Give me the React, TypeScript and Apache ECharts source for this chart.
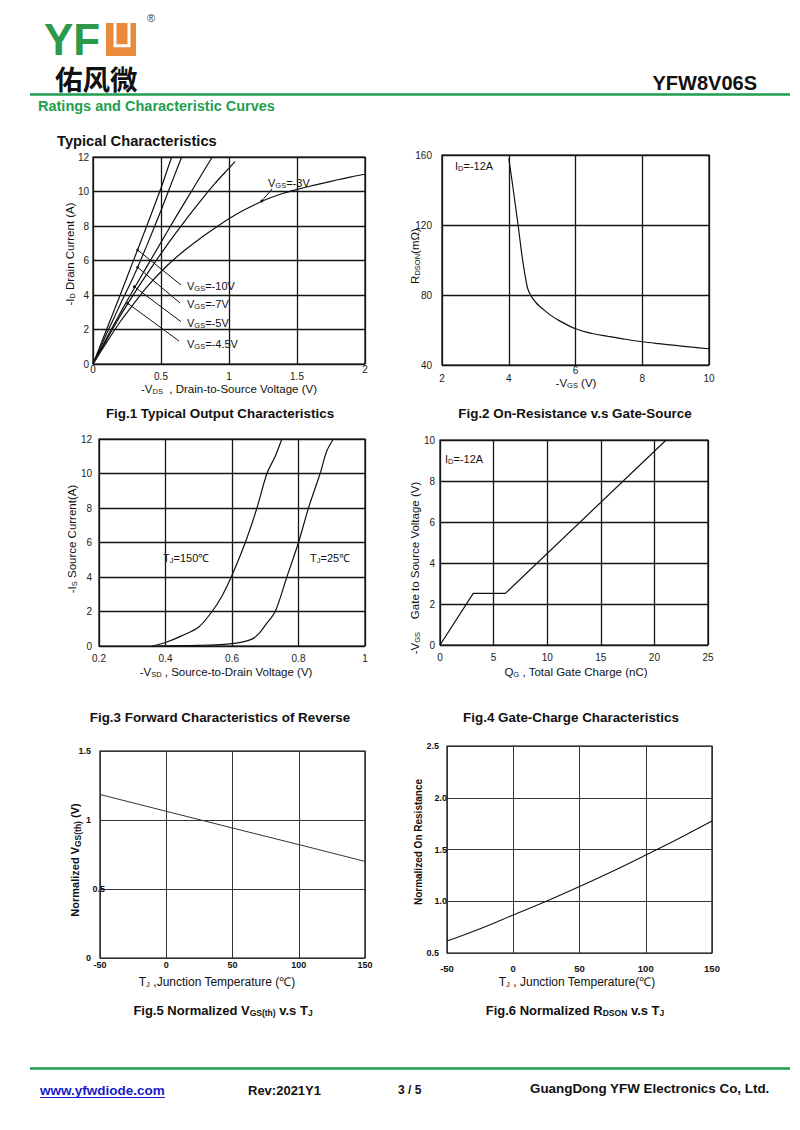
import React, { useEffect, useRef } from "react";
import * as echarts from "echarts";

const FONT = "'Liberation Sans', Arial, sans-serif";

// ---------- Fig.1 Typical output characteristics (-VDS [V] vs -ID [A]) ----------
const f1Vds10 = [0, 0.1, 0.2, 0.3, 0.4, 0.5, 0.578];
const f1Id10 = [0, 2.0, 4.0, 6.05, 8.1, 10.2, 12];
const f1Vds7 = [0, 0.1, 0.2, 0.3, 0.4, 0.5, 0.6, 0.652];
const f1Id7 = [0, 1.75, 3.45, 5.1, 6.95, 8.9, 10.95, 12];
const f1Vds5 = [0, 0.1, 0.2, 0.3, 0.4, 0.5, 0.6, 0.7, 0.8, 0.877];
const f1Id5 = [0, 1.5, 2.95, 4.35, 5.7, 7.05, 8.4, 9.7, 11.0, 12];
const f1Vds45 = [0, 0.1, 0.2, 0.3, 0.4, 0.5, 0.6, 0.7, 0.8, 0.9, 1.0, 1.044];
const f1Id45 = [0, 1.4, 2.78, 4.05, 5.25, 6.4, 7.5, 8.55, 9.55, 10.5, 11.35, 11.73];
const f1Vds3 = [0, 0.1, 0.2, 0.3, 0.4, 0.5, 0.6, 0.7, 0.8, 0.9, 1.0, 1.1, 1.2, 1.3, 1.4, 1.5, 1.6, 1.7, 1.8, 1.9, 2.0];
const f1Id3 = [0, 1.25, 2.45, 3.5, 4.5, 5.35, 6.1, 6.75, 7.35, 7.9, 8.42, 8.88, 9.28, 9.62, 9.9, 10.12, 10.32, 10.5, 10.68, 10.85, 11.0];

// ---------- Fig.2 On-resistance vs gate-source voltage ----------
const f2Vgs = [4.0, 4.1, 4.2, 4.3, 4.4, 4.5, 4.55, 4.6, 4.7, 4.8, 4.9, 5.0, 5.25, 5.5, 6.0, 6.5, 7.0, 7.5, 8.0, 8.5, 9.0, 9.5, 10.0];
const f2Rds = [158, 145, 131, 117, 102, 90, 85, 82, 78.5, 76, 74, 72.3, 68.5, 65.5, 60.7, 58, 56.3, 54.7, 53.3, 52.2, 51.2, 50.2, 49.3];

// ---------- Fig.3 Forward characteristics of reverse diode ----------
const f3Vsd150 = [0.36, 0.4, 0.45, 0.5, 0.54, 0.57, 0.6, 0.64, 0.675, 0.705, 0.73, 0.75];
const f3Is150 = [0, 0.2, 0.6, 1.1, 2.0, 2.9, 4.1, 6.0, 8.0, 10.0, 11.0, 12.0];
const f3Vsd25 = [0.38, 0.45, 0.5, 0.55, 0.6, 0.63, 0.66, 0.68, 0.7, 0.73, 0.765, 0.8, 0.83, 0.865, 0.885, 0.905];
const f3Is25 = [0, 0.02, 0.04, 0.07, 0.14, 0.22, 0.4, 0.7, 1.2, 2.0, 4.0, 6.0, 8.0, 10.0, 11.3, 12];

// ---------- Fig.4 Gate charge ----------
const f4Qg = [0, 3.1, 6.1, 21.1];
const f4Vgs = [0, 2.52, 2.52, 10];

// ---------- Fig.5 Normalized VGS(th) vs TJ ----------
const f5Tj = [-50, 0, 50, 100, 150];
const f5Vth = [1.185, 1.063, 0.942, 0.822, 0.7];

// ---------- Fig.6 Normalized RDSON vs TJ ----------
const f6Tj = [-50, -25, 0, 25, 50, 75, 100, 125, 150];
const f6Rds = [0.615, 0.735, 0.868, 1.0, 1.142, 1.29, 1.447, 1.607, 1.775];

const zip = (xs: number[], ys: number[]) => xs.map((x, i) => [x, ys[i]]);

const SUB = { fontSize: 7.5, verticalAlign: "bottom" as const, fontFamily: FONT, padding: [5, 0, 0, 0] };

function txt(text: string, x: number, y: number, opts: any = {}) {
  const { rotation, rich, ...style } = opts;
  return {
    type: "text",
    x,
    y,
    rotation: rotation || 0,
    silent: true,
    style: {
      text,
      fontFamily: FONT,
      fontSize: 11,
      fill: "#111",
      align: "left",
      verticalAlign: "middle",
      rich: rich || { s: { ...SUB, fill: style.fill || "#111" } },
      ...style,
    },
  };
}

function line(x1: number, y1: number, x2: number, y2: number, stroke = "#111", lineWidth = 1) {
  return { type: "line", silent: true, shape: { x1, y1, x2, y2 }, style: { stroke, lineWidth } };
}

function dot(cx: number, cy: number) {
  return { type: "circle", silent: true, shape: { cx, cy, r: 1.4 }, style: { fill: "#111" } };
}

export default function App() {
  const ref = useRef<HTMLDivElement>(null);

  useEffect(() => {
    document.body.style.margin = "0";
    if (!ref.current) return;
    const chart = echarts.init(ref.current, null, { renderer: "svg" });

    const gridDefs = [
      { left: 93, top: 157, width: 272, height: 207 },
      { left: 442, top: 155, width: 267, height: 210 },
      { left: 99, top: 439, width: 266, height: 207 },
      { left: 440, top: 440, width: 268, height: 205 },
      { left: 100, top: 751, width: 265, height: 207 },
      { left: 447, top: 746, width: 265, height: 207 },
    ];
    const grid = gridDefs.map((g) => ({ ...g, show: true, borderColor: "#000", borderWidth: 1.2, containLabel: false }));

    const split = (thin = false) => ({ show: true, lineStyle: { color: thin ? "#333" : "#151515", width: thin ? 1 : 1.3 } });
    const lbl = (o: any) => ({ fontFamily: FONT, fontSize: 10, color: "#222", ...o });
    const baseAxis = (gi: number, min: number, max: number, interval: number, thin: boolean, label: any) => ({
      gridIndex: gi,
      type: "value",
      min,
      max,
      interval,
      axisLine: { show: false },
      axisTick: { show: false },
      splitLine: split(thin),
      axisLabel: label,
    });

    const xAxis = [
      baseAxis(0, 0, 2, 0.5, false, lbl({
        margin: 0,
        formatter: (v: number) => (v === 0 || v === 2 ? `{h|${v}}` : `{n|${v}}`),
        rich: { h: { fontFamily: FONT, fontSize: 10, color: "#222" }, n: { fontFamily: FONT, fontSize: 10, color: "#222", padding: [7, 0, 0, 0] } },
      })),
      baseAxis(1, 2, 10, 2, false, lbl({
        margin: 0,
        formatter: (v: number) => (v === 6 ? `{h|${v}}` : `{n|${v}}`),
        rich: { h: { fontFamily: FONT, fontSize: 10, color: "#222" }, n: { fontFamily: FONT, fontSize: 10, color: "#222", padding: [8, 0, 0, 0] } },
      })),
      baseAxis(2, 0.2, 1, 0.2, false, lbl({ margin: 7, formatter: (v: number) => String(Math.round(v * 10) / 10) })),
      baseAxis(3, 0, 25, 5, false, lbl({ margin: 7 })),
      baseAxis(4, -50, 150, 50, true, lbl({ margin: 2, fontSize: 9, fontWeight: "bold", color: "#111" })),
      baseAxis(5, -50, 150, 50, true, lbl({ margin: 10, fontSize: 9.5, fontWeight: "bold", color: "#111" })),
    ];
    const yAxis = [
      baseAxis(0, 0, 12, 2, false, lbl({ margin: 4 })),
      baseAxis(1, 40, 160, 40, false, lbl({ margin: 10 })),
      baseAxis(2, 0, 12, 2, false, lbl({ margin: 7 })),
      baseAxis(3, 0, 10, 2, false, lbl({ margin: 5 })),
      baseAxis(4, 0, 1.5, 0.5, true, lbl({
        margin: -5,
        formatter: (v: number) => (v === 0.5 ? `{b|0.5}` : `{a|${v}}`),
        rich: {
          a: { fontFamily: FONT, fontSize: 9, fontWeight: "bold", color: "#111", padding: [0, 14, 0, 0] },
          b: { fontFamily: FONT, fontSize: 9, fontWeight: "bold", color: "#111" },
        },
      })),
      baseAxis(5, 0.5, 2.5, 0.5, true, lbl({
        margin: 0,
        formatter: (v: number) => (v === 0.5 || v === 2.5 ? `{a|${v.toFixed(1)}}` : `{b|${v.toFixed(1)}}`),
        rich: {
          a: { fontFamily: FONT, fontSize: 9, fontWeight: "bold", color: "#111", padding: [0, 8, 0, 0] },
          b: { fontFamily: FONT, fontSize: 9, fontWeight: "bold", color: "#111" },
        },
      })),
    ];

    const ser = (gi: number, xs: number[], ys: number[], smooth: any = 0.3, width = 1.2, color = "#111") => ({
      type: "line",
      xAxisIndex: gi,
      yAxisIndex: gi,
      data: zip(xs, ys),
      showSymbol: false,
      symbol: "none",
      smooth,
      silent: true,
      clip: true,
      lineStyle: { color, width },
    });

    const series = [
      ser(0, f1Vds10, f1Id10),
      ser(0, f1Vds7, f1Id7),
      ser(0, f1Vds5, f1Id5),
      ser(0, f1Vds45, f1Id45),
      ser(0, f1Vds3, f1Id3),
      ser(1, f2Vgs, f2Rds, 0.35),
      ser(2, f3Vsd150, f3Is150),
      ser(2, f3Vsd25, f3Is25),
      ser(3, f4Qg, f4Vgs, false),
      ser(4, f5Tj, f5Vth, false, 1, "#333"),
      ser(5, f6Tj, f6Rds, 0.3, 1.1, "#111"),
    ];

    const white = { backgroundColor: "#fff", padding: [2, 1] };
    const subB = { b: { fontFamily: FONT, fontSize: 8.5, fontWeight: "bold", fill: "#111", verticalAlign: "bottom", padding: [5, 0, 0, 0] } };
    const graphic: any[] = [
      // ---------- header ----------
      txt("YF", 44, 39, { fontSize: 44, fontWeight: 900, fill: "#2d9a49", lineHeight: 34, scaleX: 1 }),
      { type: "rect", silent: true, shape: { x: 106, y: 23, width: 30, height: 33 }, style: { fill: "#e98b3b" } },
      { type: "polyline", silent: true, shape: { points: [[115, 22], [115, 45.7], [129, 45.7], [129, 22]] }, style: { stroke: "#fff", lineWidth: 3, fill: null } },
      txt("®", 147, 18, { fontSize: 11, fill: "#444" }),
      txt("佑风微", 55, 78, { fontSize: 27.5, fontWeight: "bold", fontFamily: "'Noto Sans CJK SC'", fill: "#111", lineHeight: 28 }),
      txt("YFW8V06S", 757, 83, { fontSize: 20, fontWeight: "bold", align: "right", fill: "#111" }),
      line(30, 94.5, 790, 94.5, "#1f9e4f", 2.5),
      txt("Ratings and Characteristic Curves", 38, 106, { fontSize: 14.5, fontWeight: "bold", fill: "#1f9e4f" }),
      txt("Typical Characteristics", 57, 141, { fontSize: 14.7, fontWeight: "bold", fill: "#111" }),

      // ---------- Fig.1 ----------
      txt("-I{s|D} Drain Current (A)", 70, 254, { rotation: Math.PI / 2, align: "center", fontSize: 11.5 }),
      txt("-V{s|DS}  , Drain-to-Source Voltage (V)", 229, 389, { align: "center", fontSize: 11.5 }),
      line(137.7, 250, 181, 285), dot(137.7, 250),
      line(137.7, 267.3, 180, 303), dot(137.7, 267.3),
      line(134.3, 286.7, 181, 321.7), dot(134.3, 286.7),
      line(127.7, 303.3, 179, 341), dot(127.7, 303.3),
      txt("V{s|GS}=-10V", 186, 286, { fontSize: 11, ...white }),
      txt("V{s|GS}=-7V", 186, 304, { fontSize: 11, ...white }),
      txt("V{s|GS}=-5V", 186, 323, { fontSize: 11, ...white }),
      txt("V{s|GS}=-4.5V", 186, 344, { fontSize: 11, ...white }),
      line(261.7, 201, 272, 189), dot(261.7, 201),
      txt("V{s|GS}=-3V", 268, 183, { fontSize: 11 }),
      txt("Fig.1 Typical Output Characteristics", 220, 413, { align: "center", fontSize: 13.4, fontWeight: "bold" }),

      // ---------- Fig.2 ----------
      txt("R{s|DSON}(mΩ)", 415, 256, { rotation: Math.PI / 2, align: "center", fontSize: 11.5 }),
      txt("-V{s|GS} (V)", 576, 383, { align: "center", fontSize: 11.5 }),
      txt("I{s|D}=-12A", 455, 166, { fontSize: 11 }),
      txt("Fig.2 On-Resistance v.s Gate-Source", 575, 413, { align: "center", fontSize: 13.4, fontWeight: "bold" }),

      // ---------- Fig.3 ----------
      txt("-I{s|S} Source Current(A)", 72, 539, { rotation: Math.PI / 2, align: "center", fontSize: 11.5 }),
      txt("-V{s|SD} , Source-to-Drain Voltage (V)", 226, 672, { align: "center", fontSize: 11.5 }),
      txt("T{s|J}=150℃", 162, 558, { fontSize: 11, ...white }),
      txt("T{s|J}=25℃", 309, 558, { fontSize: 11, ...white }),
      txt("Fig.3 Forward Characteristics of Reverse", 220, 717, { align: "center", fontSize: 13.4, fontWeight: "bold" }),

      // ---------- Fig.4 ----------
      txt("-V{s|GS}    Gate to Source Voltage (V)", 415, 568, { rotation: Math.PI / 2, align: "center", fontSize: 11.5 }),
      txt("Q{s|G} , Total Gate Charge (nC)", 576, 672, { align: "center", fontSize: 11.5 }),
      txt("I{s|D}=-12A", 445, 459, { fontSize: 11 }),
      txt("Fig.4 Gate-Charge Characteristics", 571, 717, { align: "center", fontSize: 13.4, fontWeight: "bold" }),

      // ---------- Fig.5 ----------
      txt("Normalized V{b|GS(th)} (V)", 75, 860, { rotation: Math.PI / 2, align: "center", fontSize: 11, fontWeight: "bold", rich: subB }),
      txt("T{s|J} ,Junction Temperature (℃)", 217, 982, { align: "center", fontSize: 12 }),
      txt("Fig.5 Normalized V{b|GS(th)} v.s T{b|J}", 223, 1010, { align: "center", fontSize: 13, fontWeight: "bold", rich: subB }),

      // ---------- Fig.6 ----------
      txt("Normalized On Resistance", 418, 842, { rotation: Math.PI / 2, align: "center", fontSize: 10, fontWeight: "bold" }),
      txt("T{s|J} , Junction Temperature(℃)", 577, 982, { align: "center", fontSize: 12 }),
      txt("Fig.6 Normalized R{b|DSON} v.s T{b|J}", 575, 1010, { align: "center", fontSize: 13, fontWeight: "bold", rich: subB }),

      // ---------- footer ----------
      line(30, 1068.5, 790, 1068.5, "#1f9e4f", 2.5),
      txt("www.yfwdiode.com", 40, 1090, { fontSize: 13.5, fontWeight: "bold", fill: "#1a1ac8" }),
      line(40, 1097.5, 165, 1097.5, "#1a1ac8", 1),
      txt("Rev:2021Y1", 248, 1090, { fontSize: 13, fontWeight: "bold" }),
      txt("3 / 5", 398, 1090, { fontSize: 12, fontWeight: "bold" }),
      txt("GuangDong YFW Electronics Co, Ltd.", 530, 1088, { fontSize: 13.4, fontWeight: "bold" }),
    ];

    chart.setOption({
      animation: false,
      backgroundColor: "#fff",
      grid,
      xAxis,
      yAxis,
      series,
      graphic,
    });

    return () => chart.dispose();
  }, []);

  return <div ref={ref} style={{ width: 800, height: 1130, background: "#fff" }} />;
}
